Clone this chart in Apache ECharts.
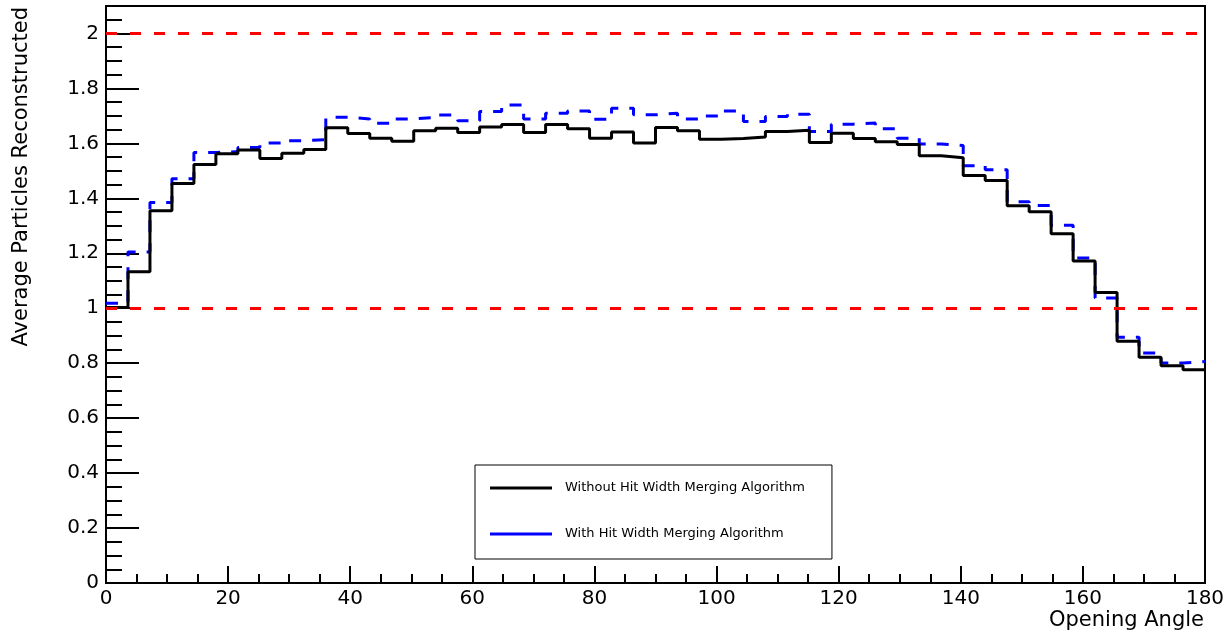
<!DOCTYPE html>
<html>
<head>
<meta charset="utf-8">
<script src="https://cdn.jsdelivr.net/npm/echarts@6/dist/echarts.min.js"></script>
<style>
  html, body { margin: 0; padding: 0; background: #fff; }
  #chart { width: 1224px; height: 635px; }
</style>
</head>
<body>
<div id="chart"></div>
<script>
// Histogram binning: 50 bins across 0..180 degrees
const binWidth = 3.6;
const angleRange = [0, 180];

// Mean number of reconstructed particles per opening-angle bin
const withoutMerging = [
  1.003, 1.133, 1.355, 1.454, 1.523, 1.562, 1.576, 1.545, 1.564, 1.578,
  1.657, 1.636, 1.619, 1.608, 1.646, 1.655, 1.640, 1.660, 1.669, 1.640,
  1.669, 1.653, 1.619, 1.641, 1.601, 1.658, 1.646, 1.615, 1.618, 1.623,
  1.643, 1.648, 1.603, 1.637, 1.618, 1.606, 1.596, 1.555, 1.548, 1.483,
  1.465, 1.373, 1.351, 1.271, 1.172, 1.057, 0.880, 0.822, 0.791, 0.776
];
const withMerging = [
  1.018, 1.205, 1.385, 1.471, 1.567, 1.570, 1.585, 1.601, 1.610, 1.613,
  1.695, 1.689, 1.673, 1.689, 1.694, 1.703, 1.682, 1.716, 1.740, 1.689,
  1.710, 1.718, 1.688, 1.728, 1.704, 1.710, 1.689, 1.700, 1.718, 1.680,
  1.698, 1.706, 1.643, 1.670, 1.674, 1.653, 1.619, 1.598, 1.592, 1.519,
  1.504, 1.388, 1.374, 1.302, 1.183, 1.037, 0.894, 0.837, 0.801, 0.806
];

const seriesNames = [
  'Without Hit Width Merging Algorithm',
  'With Hit Width Merging Algorithm'
];
const referenceLevels = [1, 2];
const yRange = [0, 2.1];

// Turn bin contents into step-line vertices (left edge of each bin + final right edge)
function histPoints(values) {
  const pts = values.map((v, i) => [i * binWidth, v]);
  pts.push([values.length * binWidth, values[values.length - 1]]);
  return pts;
}

const FONT = '"DejaVu Sans", sans-serif';
const black = '#000000';

const chart = echarts.init(document.getElementById('chart'), null, { renderer: 'canvas' });

chart.setOption({
  animation: false,
  backgroundColor: '#ffffff',
  grid: {
    left: 106, right: 19, top: 6, bottom: 52,
    outerBoundsMode: 'none',
    containLabel: false,
    show: true, borderColor: black, borderWidth: 2, backgroundColor: 'transparent'
  },
  xAxis: {
    type: 'value',
    min: angleRange[0], max: angleRange[1], interval: 20,
    axisLine: { lineStyle: { color: black, width: 2 } },
    axisTick: { inside: true, length: 17, lineStyle: { color: black, width: 2 } },
    minorTick: { show: true, splitNumber: 4, length: 9, lineStyle: { color: black, width: 2 } },
    splitLine: { show: false },
    minorSplitLine: { show: false },
    axisLabel: { color: black, fontFamily: FONT, fontSize: 20, margin: 6 }
  },
  yAxis: [
    {
      type: 'value',
      position: 'left',
      min: yRange[0], max: yRange[1], interval: 0.2,
      axisLine: { show: true, lineStyle: { color: black, width: 2 } },
      axisTick: { show: true, inside: true, length: 33, lineStyle: { color: black, width: 2 } },
      splitLine: { show: false },
      axisLabel: { color: black, fontFamily: FONT, fontSize: 20, margin: 7, showMaxLabel: false }
    },
    {
      // fine ticks every 0.05
      type: 'value',
      position: 'left',
      offset: 0,
      min: yRange[0], max: yRange[1], interval: 0.05,
      axisLine: { show: false },
      axisTick: { show: true, inside: true, length: 16, lineStyle: { color: black, width: 2 } },
      splitLine: { show: false },
      axisLabel: { show: false }
    }
  ],
  legend: {
    data: seriesNames,
    orient: 'vertical',
    left: 475, top: 465,
    icon: 'rect',
    itemWidth: 62, itemHeight: 3,
    itemGap: 32,
    padding: [16, 27, 18, 15],
    borderColor: black, borderWidth: 1,
    backgroundColor: '#ffffff',
    selectedMode: false,
    textStyle: { fontFamily: FONT, fontSize: 13, color: black, lineHeight: 14, padding: [0, 0, 0, 8] }
  },
  series: [
    {
      name: seriesNames[1],
      type: 'line',
      step: 'end',
      yAxisIndex: 0,
      data: histPoints(withMerging),
      symbol: 'none',
      color: '#0000ff',
      lineStyle: { color: '#0000ff', width: 3, type: [12, 11] },
      z: 2
    },
    {
      name: seriesNames[0],
      type: 'line',
      step: 'end',
      yAxisIndex: 0,
      data: histPoints(withoutMerging),
      symbol: 'none',
      color: black,
      lineStyle: { color: black, width: 3 },
      z: 3,
      markLine: {
        silent: true,
        symbol: ['none', 'none'],
        label: { show: false },
        lineStyle: { color: '#ff0000', width: 3, type: [11, 13] },
        data: referenceLevels.map(v => ({ yAxis: v }))
      }
    }
  ],
  graphic: [
    {
      type: 'text',
      x: 21.5, y: 7,
      rotation: Math.PI / 2,
      style: {
        text: 'Average Particles Reconstructed',
        fontFamily: FONT, fontSize: 21, fill: black,
        align: 'right', verticalAlign: 'middle'
      }
    },
    {
      type: 'text',
      x: 1204, y: 621,
      style: {
        text: 'Opening Angle',
        fontFamily: FONT, fontSize: 21, fill: black,
        align: 'right', verticalAlign: 'middle'
      }
    }
  ]
});
</script>
</body>
</html>
